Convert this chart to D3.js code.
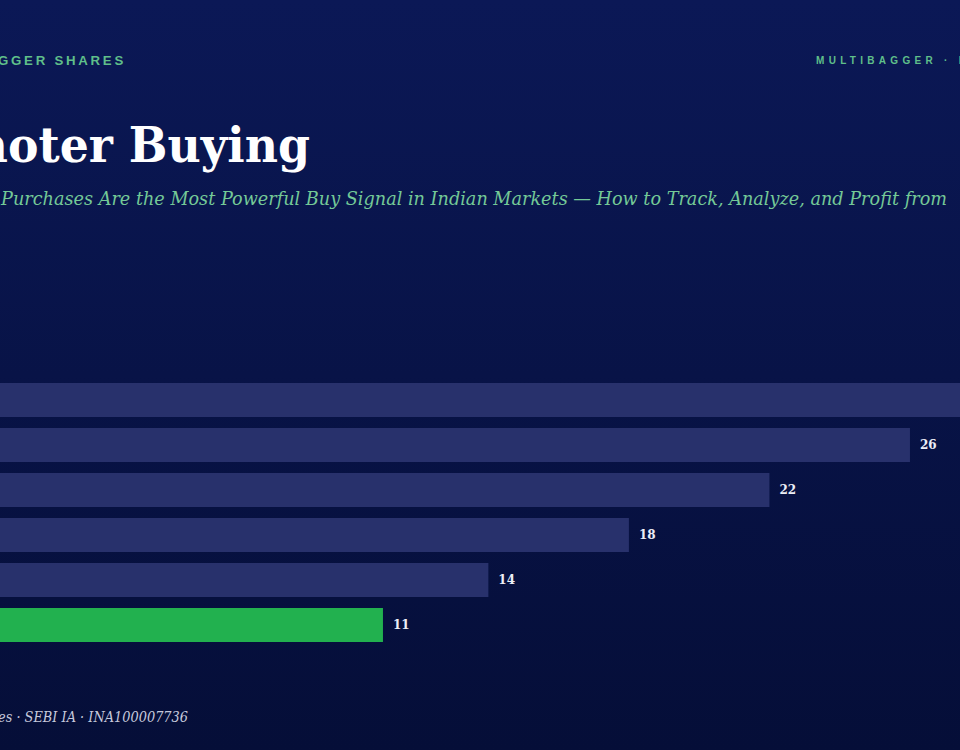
<!DOCTYPE html>
<html>
<head>
<meta charset="utf-8">
<script src="https://cdn.jsdelivr.net/npm/d3@7"></script>
<style>
  html, body { margin: 0; padding: 0; background: #08144a; }
  svg { display: block; }
</style>
</head>
<body>
<svg id="chart" width="960" height="750"></svg>
<script>
// bar data (category names sit off the visible area)
const categories = ["r1", "r2", "r3", "r4", "r5", "r6"];
const values = [30, 26, 22, 18, 14, 11];
const highlighted = ["r6"];

const svg = d3.select("#chart"),
  width = +svg.attr("width"),
  height = +svg.attr("height");

// background gradient
const defs = svg.append("defs");
const grad = defs
  .append("linearGradient")
  .attr("id", "bg")
  .attr("x1", 0).attr("y1", 0)
  .attr("x2", 0).attr("y2", 1);
grad.append("stop").attr("offset", "0%").attr("stop-color", "#0b1856");
grad.append("stop").attr("offset", "100%").attr("stop-color", "#050e38");

svg.append("rect")
  .attr("width", width)
  .attr("height", height)
  .attr("fill", "url(#bg)");

// text that runs past the left edge: squeeze it so the part
// that shows ends at `right` and has width `shown`
function clippedText(full, tail, right, shown) {
  const t = svg.append("text").attr("x", right).attr("text-anchor", "end");
  return {
    t: t,
    fit: function () {
      t.text(tail);
      const wTail = t.node().getComputedTextLength();
      t.text(full);
      const wFull = t.node().getComputedTextLength();
      const k = shown / wTail;
      t.attr("textLength", wFull * k).attr("lengthAdjust", "spacingAndGlyphs");
      return t;
    },
  };
}

// header texts
const hdr = clippedText("MULTIBAGGER SHARES", "GGER SHARES", 126, 128);
hdr.t
  .attr("y", 65)
  .attr("font-family", "Liberation Sans, Arial, sans-serif")
  .attr("font-weight", "bold")
  .attr("font-size", 13)
  .attr("letter-spacing", 2.7)
  .attr("fill", "#5fbf8a");
hdr.fit();

svg.append("text")
  .attr("x", 816)
  .attr("y", 64)
  .attr("font-family", "Liberation Sans, Arial, sans-serif")
  .attr("font-weight", "bold")
  .attr("font-size", 10)
  .attr("letter-spacing", 4.3)
  .attr("fill", "#5fbf8a")
  .text("MULTIBAGGER · DATA");

// title
const ttl = clippedText("Promoter Buying", "oter Buying", 310, 302);
ttl.t
  .attr("y", 162)
  .attr("font-family", "DejaVu Serif, Georgia, serif")
  .attr("font-weight", "bold")
  .attr("font-size", 48)
  .attr("fill", "#ffffff");
ttl.fit();

// subtitle
svg.append("text")
  .attr("x", -3)
  .attr("y", 205)
  .attr("text-anchor", "end")
  .attr("font-family", "DejaVu Serif, Georgia, serif")
  .attr("font-style", "italic")
  .attr("font-size", 19)
  .attr("fill", "#74c997")
  .text("Why Promoter");

svg.append("text")
  .attr("x", 1)
  .attr("y", 205)
  .attr("font-family", "DejaVu Serif, Georgia, serif")
  .attr("font-style", "italic")
  .attr("font-size", 19)
  .attr("textLength", 946)
  .attr("lengthAdjust", "spacingAndGlyphs")
  .attr("fill", "#74c997")
  .text("Purchases Are the Most Powerful Buy Signal in Indian Markets — How to Track, Analyze, and Profit from");

// scales
const x = d3.scaleLinear().domain([0, 30]).range([-3.5, 1050.5]);
const y = d3
  .scaleBand()
  .domain(categories)
  .range([377.5, 647.5])
  .paddingInner(0.2444)
  .paddingOuter(0.1222);

const rows = categories.map((c, i) => ({ cat: c, value: values[i] }));

const g = svg.append("g");

g.selectAll("rect.bar")
  .data(rows)
  .enter()
  .append("rect")
  .attr("class", "bar")
  .attr("x", x(0))
  .attr("y", (d) => y(d.cat))
  .attr("width", (d) => x(d.value) - x(0))
  .attr("height", y.bandwidth())
  .attr("fill", (d) => (highlighted.includes(d.cat) ? "#22b14f" : "#28316c"));

g.selectAll("text.val")
  .data(rows)
  .enter()
  .append("text")
  .attr("class", "val")
  .attr("x", (d) => x(d.value) + 10)
  .attr("y", (d) => y(d.cat) + y.bandwidth() / 2 + 4)
  .attr("font-family", "DejaVu Serif, Georgia, serif")
  .attr("font-weight", "bold")
  .attr("font-size", 12)
  .attr("fill", "#eceef6")
  .text((d) => d.value);

// footer
const ftr = clippedText("Multibagger Shares · SEBI IA · INA100007736", "es · SEBI IA · INA100007736", 188, 190);
ftr.t
  .attr("y", 722)
  .attr("font-family", "DejaVu Serif, Georgia, serif")
  .attr("font-style", "italic")
  .attr("font-size", 14)
  .attr("fill", "#c5c9dc");
ftr.fit();
</script>
</body>
</html>
